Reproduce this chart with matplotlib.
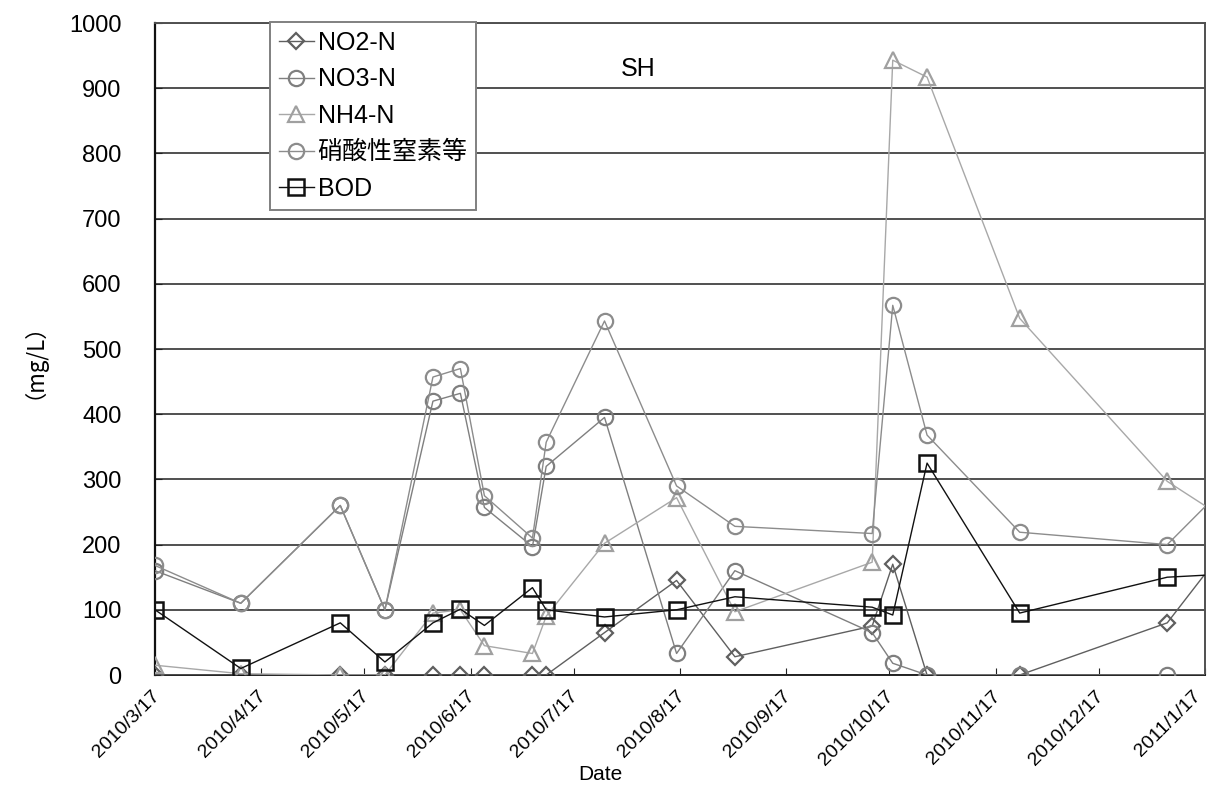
import matplotlib
matplotlib.use("Agg")
import matplotlib.pyplot as plt
import matplotlib.transforms as mtransforms
import pandas as pd

plt.rcParams['font.family'] = ['Liberation Sans', 'Noto Sans CJK JP', 'DejaVu Sans']

dates = pd.to_datetime([
    "2010-03-17", "2010-04-11", "2010-05-10", "2010-05-23", "2010-06-06",
    "2010-06-14", "2010-06-21", "2010-07-05", "2010-07-09", "2010-07-26",
    "2010-08-16", "2010-09-02", "2010-10-12", "2010-10-18", "2010-10-28",
    "2010-11-24", "2011-01-06", "2011-01-31"])

no2 = [0, 0, 0, 0, 0, 0, 0, 0, 0, 65, 145, 28, 75, 170, 0, 0, 80, 250]
no3 = [160, 110, 260, 100, 420, 432, 257, 197, 320, 395, 33, 160, 65, 18, 0, 0, 0, 0]
nh4 = [15, 2, 0, 0, 95, 100, 45, 33, 90, 202, 272, 97, 173, 943, 917, 547, 297, 212]
nitrate_total = [168, 110, 260, 100, 457, 470, 275, 210, 357, 543, 290, 228, 217, 567, 368, 219, 200, 332]
bod = [100, 10, 80, 20, 80, 101, 76, 134, 100, 89, 100, 120, 104, 92, 325, 95, 150, 157]

tick_dates = pd.date_range("2010-03-17", "2011-01-17", freq=pd.DateOffset(months=1))
tick_labels = [f"{d.year}/{d.month}/{d.day}" for d in tick_dates]

fig = plt.figure(figsize=(12.1, 7.89), dpi=100)
ax = fig.add_axes([155/1210, 1-675/789, (1205-155)/1210, (675-23)/789])

ax.plot(dates, no2, color='#5f5f5f', lw=1.0, marker='D', ms=8, mfc='none', mec='#5f5f5f', mew=1.6, label='NO2-N', zorder=3)
ax.plot(dates, no3, color='#7f7f7f', lw=1.0, marker='o', ms=11, mfc='none', mec='#7f7f7f', mew=1.6, label='NO3-N', zorder=3)
ax.plot(dates, nh4, color='#a8a8a8', lw=1.0, marker='^', ms=11, mfc='none', mec='#a0a0a0', mew=1.6, label='NH4-N', zorder=3)
ax.plot(dates, nitrate_total, color='#8c8c8c', lw=1.0, marker='o', ms=11, mfc='none', mec='#8c8c8c', mew=1.6, label='硝酸性窒素等', zorder=3)
ax.plot(dates, bod, color='#111111', lw=1.0, marker='s', ms=11, mfc='none', mec='#111111', mew=1.8, label='BOD', zorder=4)

ax.set_xlim(tick_dates[0], tick_dates[-1])
ax.set_ylim(0, 1000)
ax.set_yticks(range(0, 1001, 100))
ax.yaxis.grid(True, color='#505050', lw=1.4)
ax.set_axisbelow(True)
ax.set_xticks(tick_dates)
ax.set_xticklabels(tick_labels, rotation=45, ha='right', va='top', rotation_mode='anchor', fontsize=14)
ax.tick_params(axis='y', direction='in', length=5, labelsize=17, pad=24, color='#222222')
ax.tick_params(axis='x', direction='in', length=5, pad=9, color='#222222')
xlabels = ax.get_xticklabels()
for i, lab in enumerate(xlabels):
    dx = -13 if i == len(xlabels) - 1 else -4
    shift = mtransforms.ScaledTranslation(dx/100, 0, fig.dpi_scale_trans)
    lab.set_transform(lab.get_transform() + shift)

ax.spines['left'].set_color('#111111')
ax.spines['left'].set_linewidth(1.6)
ax.spines['bottom'].set_color('#222222')
ax.spines['bottom'].set_linewidth(1.4)
ax.spines['top'].set_color('#505050')
ax.spines['top'].set_linewidth(1.4)
ax.spines['right'].set_color('#505050')
ax.spines['right'].set_linewidth(1.4)

ax.text(0.46, 0.93, 'SH', transform=ax.transAxes, fontsize=18, ha='center', va='center')

fig.text(600/1210, 1-774/789, 'Date', fontsize=15, ha='center', va='center')
fig.text(22/1210, 1-350/789, '（mg/L）', fontsize=16, ha='center', va='center', rotation=90,
         family=['Noto Sans CJK JP', 'DejaVu Sans'])

leg = ax.legend(loc='upper left', bbox_to_anchor=(270/1210, 1-22/789), bbox_transform=fig.transFigure,
                fontsize=18, frameon=True, fancybox=False, framealpha=1, edgecolor='#808080',
                handlelength=1.4, handletextpad=0.15, labelspacing=0.5, borderpad=0.35,
                borderaxespad=0)
leg.get_frame().set_linewidth(1.4)

fig.savefig('out.png', dpi=100)
